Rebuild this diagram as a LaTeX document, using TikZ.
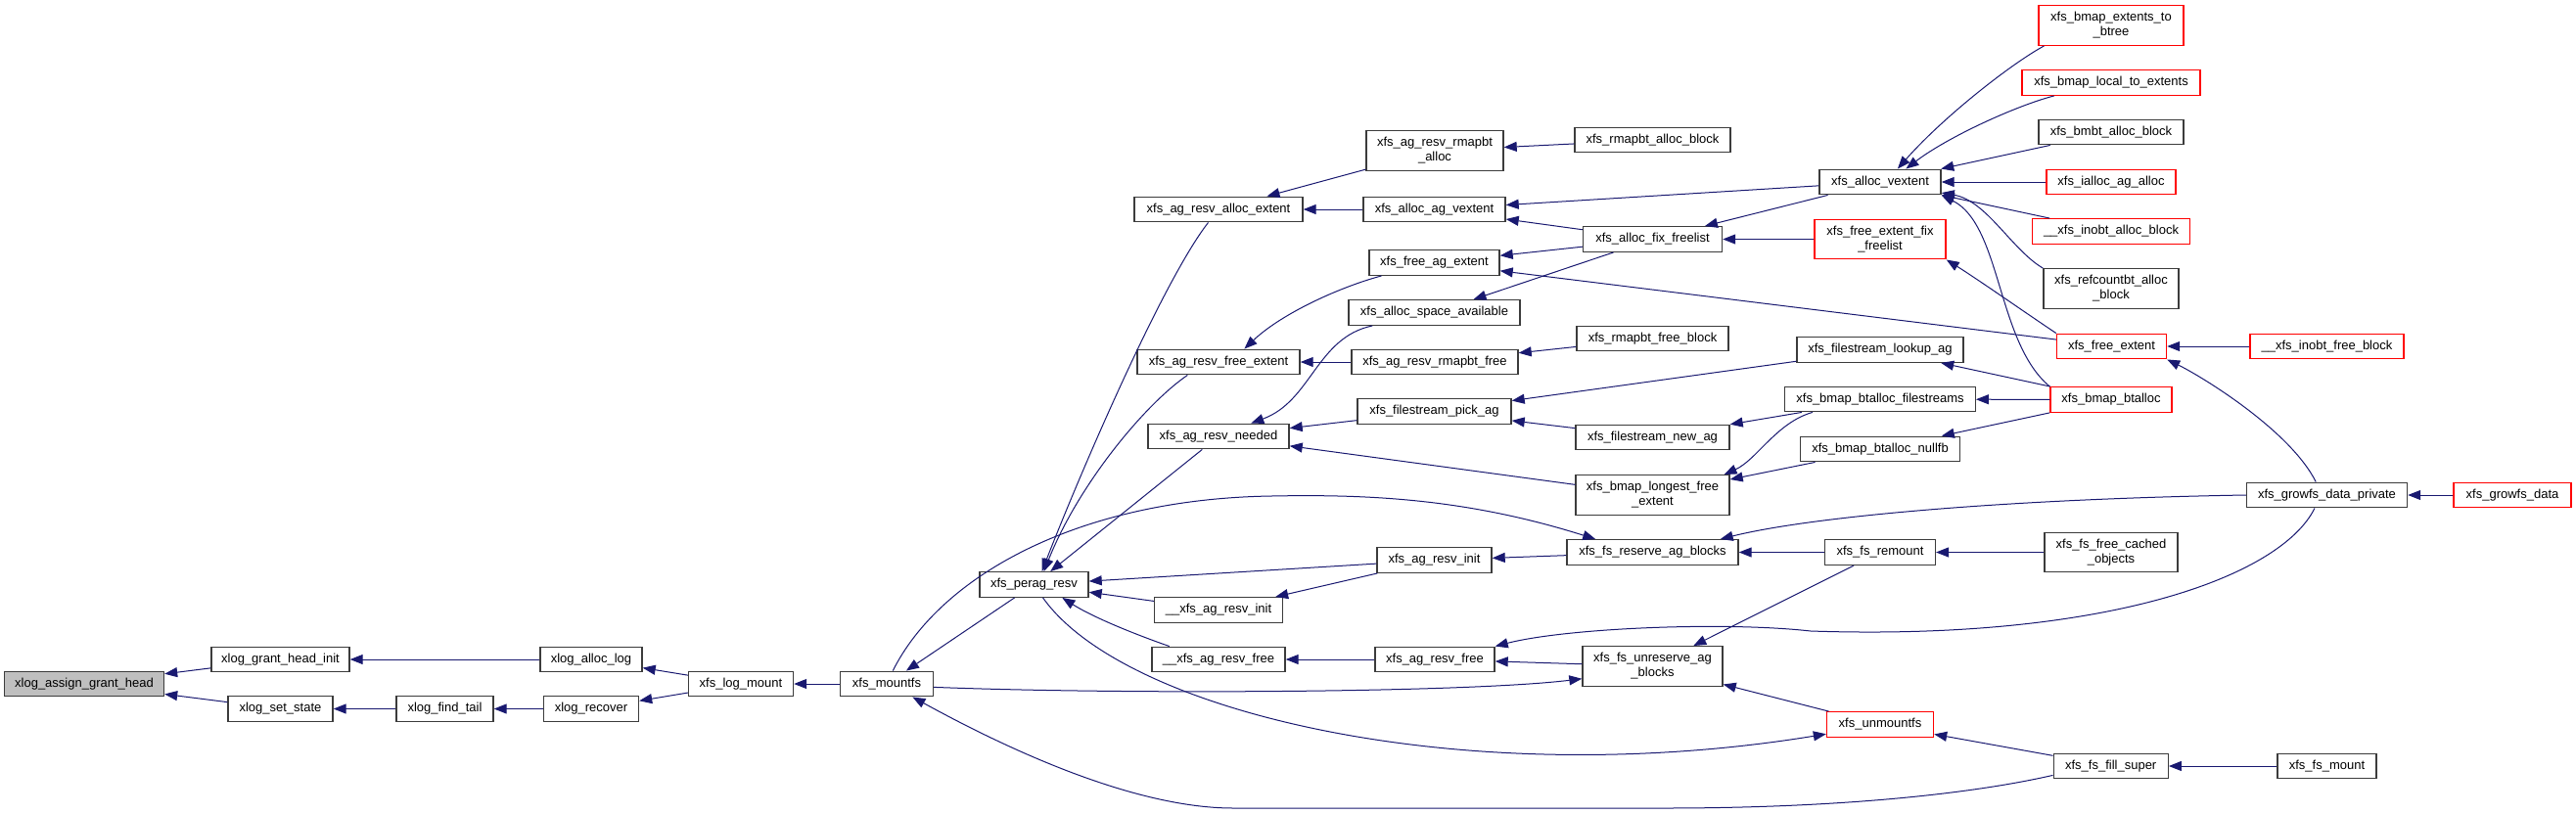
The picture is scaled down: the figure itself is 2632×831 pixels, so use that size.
\documentclass[tikz,border=0pt]{standalone}
\usepackage{fontspec}
\setmainfont{Liberation Sans}
\usetikzlibrary{arrows.meta}
\definecolor{edgeblue}{RGB}{25,25,112}
\definecolor{rootgray}{RGB}{191,191,191}
\definecolor{boxline}{RGB}{60,60,60}

\begin{document}
\begin{tikzpicture}[
    x=1pt, y=-1pt,
    >={Triangle[length=13pt,width=10pt]},
    font=\fontsize{13}{15}\selectfont
]

% ---------------------------------------------------------
% Styles
% ---------------------------------------------------------
\tikzset{
    fn_box/.style={
        rectangle, draw=boxline, line width=1.4pt, fill=white,
        inner sep=0pt, align=center
    },
    fn_node/.style={
        fn_box, minimum height=25.5pt, text height=9.6pt, text depth=2.8pt
    },
    fn_tall/.style={
        fn_box, minimum height=40.5pt
    },
    red_node/.style={draw=red},
    root_node/.style={fill=rootgray},
    call/.style={<-, draw=edgeblue, line width=1pt}
}

\useasboundingbox (0,0) rectangle (2632,831);

% ---------------------------------------------------------
% 1. Log side (left)
% ---------------------------------------------------------
\node[fn_node, root_node, minimum width=163] (AssignHead) at (86,699) {xlog\_assign\_grant\_head};
\node[fn_node, minimum width=141] (GrantInit) at (286.5,674) {xlog\_grant\_head\_init};
\node[fn_node, minimum width=107] (SetState)  at (286.5,724.5) {xlog\_set\_state};
\node[fn_node, minimum width=99]  (FindTail)  at (454.5,724.5) {xlog\_find\_tail};
\node[fn_node, minimum width=104] (AllocLog)  at (604,674) {xlog\_alloc\_log};
\node[fn_node, minimum width=97]  (Recover)   at (604,724.5) {xlog\_recover};
\node[fn_node, minimum width=107] (LogMount)  at (757,699) {xfs\_log\_mount};
\node[fn_node, minimum width=95]  (Mountfs)   at (906,699) {xfs\_mountfs};
\node[fn_node, minimum width=111] (PeragResv) at (1056.5,597.5) {xfs\_perag\_resv};

% ---------------------------------------------------------
% 2. Reservation column
% ---------------------------------------------------------
\node[fn_node, minimum width=172] (ResvAllocExt) at (1245,214) {xfs\_ag\_resv\_alloc\_extent};
\node[fn_node, minimum width=166] (ResvFreeExt)  at (1245,370) {xfs\_ag\_resv\_free\_extent};
\node[fn_node, minimum width=144] (ResvNeeded)   at (1245,446) {xfs\_ag\_resv\_needed};
\node[fn_node, minimum width=131] (ResvInitU)    at (1245,623.5) {\_\_xfs\_ag\_resv\_init};
\node[fn_node, minimum width=136] (ResvFreeU)    at (1245,674) {\_\_xfs\_ag\_resv\_free};

% ---------------------------------------------------------
% 3. Allocation helpers
% ---------------------------------------------------------
\node[fn_tall, minimum width=140] (RmapbtAlloc) at (1466,154) {xfs\_ag\_resv\_rmapbt\\\_alloc};
\node[fn_node, minimum width=145] (AllocAgVext) at (1465.5,214) {xfs\_alloc\_ag\_vextent};
\node[fn_node, minimum width=133] (FreeAgExt)   at (1465.5,268.5) {xfs\_free\_ag\_extent};
\node[fn_node, minimum width=175] (SpaceAvail)  at (1465.5,319.5) {xfs\_alloc\_space\_available};
\node[fn_node, minimum width=170] (RmapbtFree)  at (1466,370) {xfs\_ag\_resv\_rmapbt\_free};
\node[fn_node, minimum width=157] (PickAg)      at (1465.5,420.5) {xfs\_filestream\_pick\_ag};
\node[fn_node, minimum width=117] (ResvInit)    at (1465.5,572.5) {xfs\_ag\_resv\_init};
\node[fn_node, minimum width=122] (ResvFree)    at (1466,674) {xfs\_ag\_resv\_free};

\node[fn_node, minimum width=159] (RmapAllocBlk) at (1688.5,143) {xfs\_rmapbt\_alloc\_block};
\node[fn_node, minimum width=142] (FixFreelist)  at (1688.5,244.5) {xfs\_alloc\_fix\_freelist};
\node[fn_node, minimum width=155] (RmapFreeBlk)  at (1688.5,346) {xfs\_rmapbt\_free\_block};
\node[fn_node, minimum width=157] (NewAg)        at (1688.5,447) {xfs\_filestream\_new\_ag};
\node[fn_tall, minimum width=157] (LongestFree)  at (1688.5,506) {xfs\_bmap\_longest\_free\\\_extent};
\node[fn_node, minimum width=175] (ReserveAg)    at (1688.5,564.5) {xfs\_fs\_reserve\_ag\_blocks};
\node[fn_tall, minimum width=143] (UnreserveAg)  at (1688.5,681) {xfs\_fs\_unreserve\_ag\\\_blocks};

\node[fn_node, minimum width=124] (AllocVext)     at (1921,186) {xfs\_alloc\_vextent};
\node[fn_tall, red_node, minimum width=134] (FreeExtFix) at (1921,244.5) {xfs\_free\_extent\_fix\\\_freelist};
\node[fn_node, minimum width=170] (LookupAg)      at (1921,357.5) {xfs\_filestream\_lookup\_ag};
\node[fn_node, minimum width=194.5] (BtallocFs)   at (1921,408) {xfs\_bmap\_btalloc\_filestreams};
\node[fn_node, minimum width=162.5] (BtallocNullfb) at (1921,459) {xfs\_bmap\_btalloc\_nullfb};
\node[fn_node, minimum width=112.7] (Remount)     at (1921,564.5) {xfs\_fs\_remount};
\node[fn_node, red_node, minimum width=109] (Unmountfs) at (1921,740.5) {xfs\_unmountfs};

% ---------------------------------------------------------
% 4. Outer callers (right)
% ---------------------------------------------------------
\node[fn_tall, red_node, minimum width=148] (ExtToBtree) at (2157,26) {xfs\_bmap\_extents\_to\\\_btree};
\node[fn_node, red_node, minimum width=182] (LocalToExt) at (2157,84.5) {xfs\_bmap\_local\_to\_extents};
\node[fn_node, minimum width=148] (BmbtAlloc) at (2157,135) {xfs\_bmbt\_alloc\_block};
\node[fn_node, red_node, minimum width=132] (IallocAg) at (2157,186) {xfs\_ialloc\_ag\_alloc};
\node[fn_node, red_node, minimum width=161] (InobtAlloc) at (2157,236.5) {\_\_xfs\_inobt\_alloc\_block};
\node[fn_tall, minimum width=138] (RefcountAlloc) at (2157,295) {xfs\_refcountbt\_alloc\\\_block};
\node[fn_node, red_node, minimum width=112] (FreeExtent) at (2157.5,354) {xfs\_free\_extent};
\node[fn_node, red_node, minimum width=124] (Btalloc) at (2157,408.5) {xfs\_bmap\_btalloc};
\node[fn_tall, minimum width=136] (FreeCached) at (2157,564.5) {xfs\_fs\_free\_cached\\\_objects};
\node[fn_node, minimum width=117] (FillSuper) at (2156.7,783) {xfs\_fs\_fill\_super};

\node[fn_node, red_node, minimum width=157] (InobtFree) at (2377.5,354) {\_\_xfs\_inobt\_free\_block};
\node[fn_node, minimum width=164] (GrowfsPriv) at (2377.5,506) {xfs\_growfs\_data\_private};
\node[fn_node, minimum width=101] (FsMount) at (2377.5,783) {xfs\_fs\_mount};
\node[fn_node, red_node, minimum width=120] (GrowfsData) at (2567,506) {xfs\_growfs\_data};

% ---------------------------------------------------------
% 5. Straight calls (head at callee)
% ---------------------------------------------------------
\draw[call] (AssignHead) -- (GrantInit);
\draw[call] (AssignHead) -- (SetState);
\draw[call] (GrantInit) -- (AllocLog);
\draw[call] (SetState) -- (FindTail);
\draw[call] (FindTail) -- (Recover);
\draw[call] (AllocLog) -- (LogMount);
\draw[call] (Recover) -- (LogMount);
\draw[call] (LogMount) -- (Mountfs);
\draw[call] (Mountfs) -- (PeragResv);

\draw[call] (PeragResv) -- (ResvNeeded);
\draw[call] (PeragResv) -- (ResvInit);
\draw[call] (PeragResv) -- (ResvInitU);
\draw[call] (ResvInitU) -- (ResvInit);
\draw[call] (ResvFreeU) -- (ResvFree);
\draw[call] (ResvInit) -- (ReserveAg);
\draw[call] (ResvFree) -- (UnreserveAg);
\draw[call] (UnreserveAg) -- (Remount);
\draw[call] (UnreserveAg) -- (Unmountfs);
\draw[call] (Unmountfs) -- (FillSuper);
\draw[call] (FillSuper) -- (FsMount);
\draw[call] (ReserveAg) -- (Remount);
\draw[call] (Remount) -- (FreeCached);
\draw[call] (GrowfsPriv) -- (GrowfsData);

\draw[call] (FreeExtent) -- (InobtFree);
\draw[call] (FreeAgExt) -- (FreeExtent);
\draw[call] (FixFreelist) -- (FreeExtFix);
\draw[call] (AllocVext) -- (IallocAg);
\draw[call] (AllocVext) -- (BmbtAlloc);
\draw[call] (AllocVext) -- (InobtAlloc);
\draw[call] (AllocAgVext) -- (AllocVext);
\draw[call] (FixFreelist) -- (AllocVext);
\draw[call] (AllocAgVext) -- (FixFreelist);
\draw[call] (FreeAgExt) -- (FixFreelist);
\draw[call] (SpaceAvail) -- (FixFreelist);

\draw[call] (ResvAllocExt) -- (RmapbtAlloc);
\draw[call] (RmapbtAlloc) -- (RmapAllocBlk);
\draw[call] (ResvAllocExt) -- (AllocAgVext);
\draw[call] (ResvFreeExt) -- (RmapbtFree);
\draw[call] (RmapbtFree) -- (RmapFreeBlk);
\draw[call] (ResvNeeded) -- (PickAg);
\draw[call] (ResvNeeded) -- (LongestFree);
\draw[call] (PickAg) -- (LookupAg);
\draw[call] (PickAg) -- (NewAg);
\draw[call] (NewAg) -- (BtallocFs);
\draw[call] (LongestFree) -- (BtallocNullfb);
\draw[call] (BtallocFs) -- (Btalloc);
\draw[call] (BtallocNullfb) -- (Btalloc);
\draw[call] (LookupAg) -- (Btalloc);

% ---------------------------------------------------------
% 6. Curved calls
% ---------------------------------------------------------
\draw[call] (PeragResv.59) .. controls (1103,485) and (1188,287) .. (ResvAllocExt.-128);
\draw[call] (PeragResv.53) .. controls (1102,495) and (1170,413) .. (ResvFreeExt.-157);
\draw[call] (PeragResv.-25) .. controls (1120,633) and (1170,652) .. (ResvFreeU.165);
\draw[call] (ResvFreeExt.27) .. controls (1310,320) and (1370,293) .. (FreeAgExt.-166);
\draw[call] (ResvNeeded.22) .. controls (1340,410) and (1345,345) .. (SpaceAvail.-168);
\draw[call] (LongestFree.16) .. controls (1795,470) and (1815,432) .. (BtallocFs.-169);
\draw[call] (FreeExtFix.south east) .. controls (2020,285) and (2070,320) .. (FreeExtent.north west);
\draw[call] (AllocVext.south east) .. controls (2045,230) and (2040,350) .. (Btalloc.north west);
\draw[call] (AllocVext.-10) .. controls (2030,205) and (2055,255) .. (RefcountAlloc.north west);
\draw[call] (AllocVext.27) .. controls (1990,140) and (2060,108) .. (LocalToExt.-167);
\draw[call] (AllocVext.37) .. controls (1985,120) and (2055,65) .. (ExtToBtree.-163);
\draw[call] (FreeExtent.south east) .. controls (2250,385) and (2340,440) .. (GrowfsPriv.130);
\draw[call] (ReserveAg.11) .. controls (1850,528) and (2050,510) .. (GrowfsPriv.west);
\draw[call] (ResvFree.north east) .. controls (1600,642) and (1760,635) .. (1850,645)
    .. controls (2150,655) and (2330,590) .. (GrowfsPriv.-133);
\draw[call] (Unmountfs.-170) .. controls (1500,810) and (1150,730) .. (PeragResv.-56);
\draw[call] (Mountfs.-27) .. controls (1010,755) and (1150,826) .. (1260,826) -- (1700,826)
    .. controls (1900,826) and (2030,808) .. (FillSuper.-171);
\draw[call] (UnreserveAg.-170) .. controls (1500,708) and (1150,710) .. (Mountfs.-4);
\draw[call] (ReserveAg.167) .. controls (1500,510) and (1400,505) .. (1299,507)
    .. controls (1100,510) and (960,590) .. (Mountfs.65);

\end{tikzpicture}
\end{document}
